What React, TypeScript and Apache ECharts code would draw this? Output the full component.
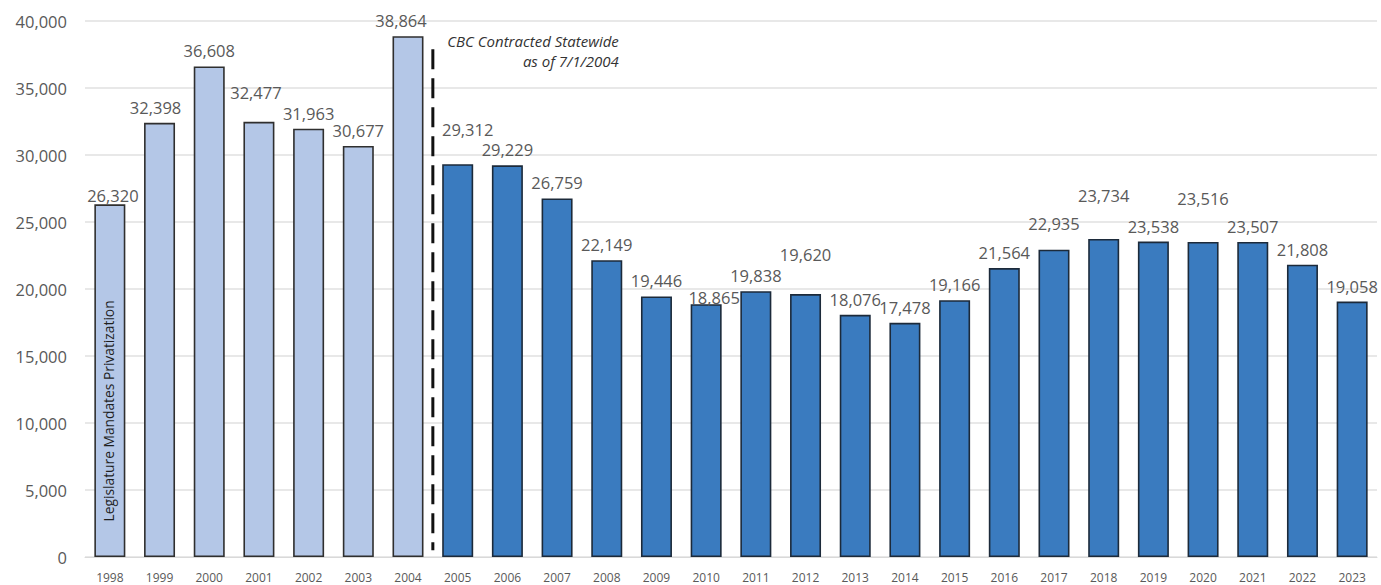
import React, { useEffect, useRef } from "react";
import * as echarts from "echarts";

const years = [
  "1998", "1999", "2000", "2001", "2002", "2003", "2004", "2005", "2006", "2007",
  "2008", "2009", "2010", "2011", "2012", "2013", "2014", "2015", "2016", "2017",
  "2018", "2019", "2020", "2021", "2022", "2023",
];
const counts = [
  26320, 32398, 36608, 32477, 31963, 30677, 38864, 29312, 29229, 26759,
  22149, 19446, 18865, 19838, 19620, 18076, 17478, 19166, 21564, 22935,
  23734, 23538, 23516, 23507, 21808, 19058,
];
const yTicks = { min: 0, max: 40000, interval: 5000 };
const contractYear = "2005";
const annotationLines = ["CBC Contracted Statewide", "as of 7/1/2004"];
const verticalNote = "Legislature Mandates Privatization";

// manual label nudges [dx, dy] as in the original chart
const labelNudges: Record<string, [number, number]> = {
  "1998": [3, 7],
  "1999": [-4, 0],
  "2001": [-3, -14],
  "2004": [-7, 0],
  "2005": [10, -19],
  "2010": [8, 9],
  "2012": [0, -24],
  "2017": [0, -11],
  "2018": [0, -28],
  "2020": [0, -28],
};

const FONT = "'Open Sans', 'Noto Sans', sans-serif";

export default function App() {
  const ref = useRef<HTMLDivElement>(null);
  useEffect(() => {
    if (!ref.current) return;
    const chart = echarts.init(ref.current, undefined, { renderer: "svg" });
    const data = counts.map((v, i) => {
      const y = years[i];
      const early = Number(y) < Number(contractYear);
      const nudge = labelNudges[y] || [0, 0];
      return {
        value: v,
        itemStyle: early
          ? { color: "#b4c7e7", borderColor: "#2f2f2f", borderWidth: 1.6 }
          : { color: "#3a7bbf", borderColor: "#1c2a3a", borderWidth: 1.6 },
        label: { offset: nudge },
      };
    });
    chart.setOption({
      animation: false,
      backgroundColor: "#ffffff",
      grid: { left: 85, right: 4, top: 21, bottom: 28, containLabel: false },
      xAxis: {
        type: "category",
        data: years,
        axisLine: { lineStyle: { color: "#d9d9d9", width: 1 } },
        axisTick: { show: false },
        axisLabel: { color: "#595959", fontSize: 12, fontFamily: FONT, margin: 14, interval: 0 },
      },
      yAxis: {
        type: "value",
        min: yTicks.min,
        max: yTicks.max,
        interval: yTicks.interval,
        axisLine: { show: false },
        axisTick: { show: false },
        splitLine: { lineStyle: { color: "#e0e0e0", width: 1.5 } },
        axisLabel: {
          color: "#595959",
          fontSize: 16.5,
          fontFamily: FONT,
          margin: 18,
          formatter: (v: number) => v.toLocaleString("en-US"),
        },
      },
      series: [
        {
          type: "bar",
          data,
          barWidth: 31,
          label: {
            show: true,
            position: "top",
            distance: 7,
            color: "#595959",
            fontSize: 16.5,
            fontFamily: FONT,
            formatter: (p: any) => Number(p.value).toLocaleString("en-US"),
          },
        },
      ],
    });

    const i2004 = years.indexOf(contractYear) - 1;
    const pA = chart.convertToPixel({ xAxisIndex: 0, yAxisIndex: 0 }, [i2004, 37900]) as number[];
    const pB = chart.convertToPixel({ xAxisIndex: 0, yAxisIndex: 0 }, [i2004 + 1, 500]) as number[];
    const dashX = (pA[0] + pB[0]) / 2;
    const pNote = chart.convertToPixel({ xAxisIndex: 0, yAxisIndex: 0 }, [0, 10900]) as number[];

    chart.setOption({
      graphic: [
        {
          type: "line",
          shape: { x1: dashX, y1: pA[1], x2: dashX, y2: pB[1] },
          style: { stroke: "#111111", lineWidth: 3, lineDash: [20, 9] },
          z: 10,
        },
        {
          type: "text",
          x: dashX + 186,
          y: 40.5,
          style: {
            text: annotationLines[0],
            fill: "#333333",
            font: `italic 15px ${FONT}`,
            textAlign: "right",
            textVerticalAlign: "middle",
          },
        },
        {
          type: "text",
          x: dashX + 186,
          y: 60.5,
          style: {
            text: annotationLines[1],
            fill: "#333333",
            font: `italic 15px ${FONT}`,
            textAlign: "right",
            textVerticalAlign: "middle",
          },
        },
        {
          type: "text",
          x: pNote[0] - 1.5,
          y: pNote[1],
          rotation: Math.PI / 2,
          style: {
            text: verticalNote,
            fill: "#1f1f1f",
            font: `13.8px ${FONT}`,
            textAlign: "center",
            textVerticalAlign: "middle",
          },
          z: 10,
        },
      ],
    });
    return () => chart.dispose();
  }, []);
  return (
    <div
      ref={ref}
      style={{ position: "absolute", left: 0, top: 0, width: 1381, height: 585, background: "#fff" }}
    />
  );
}
